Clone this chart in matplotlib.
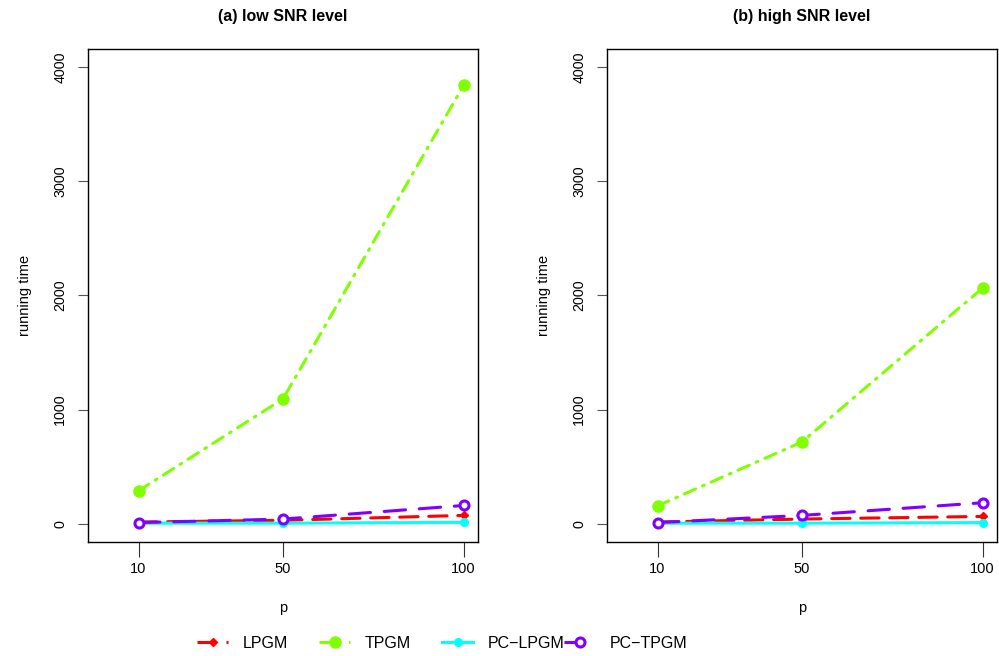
import matplotlib
matplotlib.use('Agg')
import matplotlib.pyplot as plt
from matplotlib.lines import Line2D

plt.rcParams['font.family'] = ['Liberation Sans', 'DejaVu Sans']

# data
p = [10, 50, 100]
methods = ['LPGM', 'TPGM', 'PC\u2212LPGM', 'PC\u2212TPGM']
low_lpgm = [15, 30, 73]
low_tpgm = [289, 1094, 3841]
low_pclpgm = [5, 5, 12]
low_pctpgm = [10, 41, 160]
high_lpgm = [15, 41, 64]
high_tpgm = [157, 717, 2065]
high_pclpgm = [5, 5, 10]
high_pctpgm = [10, 73, 184]
titles = ['(a) low SNR level', '(b) high SNR level']

colors = ['#ff0000', '#80ff00', '#00ffff', '#8000ff']
styles = [dict(ls=(0, (6, 3.5)), marker='D', ms=4.5, mfc=colors[0], mec=colors[0]),
          dict(ls=(0, (4, 2.5, 0.6, 2.5)), marker='o', ms=8, mfc=colors[1], mec=colors[1]),
          dict(ls='-', marker='o', ms=5.5, mfc=colors[2], mec=colors[2]),
          dict(ls=(0, (7, 4.5)), marker='o', ms=6.5, mfc='white', mec=colors[3], mew=2.2)]

fig = plt.figure(figsize=(9.99, 6.56), dpi=100)
lefts = [88/999, 607/999]
bottom = 1 - 542/656
w = 390/999
h = 493/656

panels = [[low_lpgm, low_tpgm, low_pclpgm, low_pctpgm],
          [high_lpgm, high_tpgm, high_pclpgm, high_pctpgm]]

for k in range(2):
    ax = fig.add_axes([lefts[k], bottom, w, h])
    for i in range(4):
        ax.plot(p, panels[k][i], color=colors[i], lw=2.2, dash_capstyle='round',
                solid_capstyle='round', **styles[i])
    ax.set_xlim(-4, 104)
    ax.set_ylim(-160, 4160)
    ax.set_xticks(p)
    ax.set_yticks([0, 1000, 2000, 3000, 4000])
    ax.tick_params(axis='y', length=7, width=0.8, labelsize=10.3, pad=8, color='#555555')
    ax.tick_params(axis='x', length=11, width=0.8, labelsize=10.5, pad=3.5, color='#333333')
    for lab in ax.get_yticklabels():
        lab.set_rotation(90)
        lab.set_va('center')
    ax.set_xlabel('p', fontsize=10.5, labelpad=18)
    ax.set_ylabel('running time', fontsize=10.5, labelpad=15)
    ax.set_title(titles[k], fontsize=11.5, fontweight='bold', pad=20)
    for s in ax.spines.values():
        s.set_linewidth(1.0)

# R style horizontal legend, equal-width slots
leg_x = [197, 319, 442, 564]
for i in range(4):
    hnd = Line2D([], [], color=colors[i], lw=2.2, **styles[i])
    fig.legend([hnd], [methods[i]], loc='center left',
               bbox_to_anchor=(leg_x[i]/999, 1 - 643/656), frameon=False,
               fontsize=11.5, handlelength=1.95, handletextpad=0.9,
               borderpad=0, borderaxespad=0)

fig.savefig('out.png', dpi=100)
